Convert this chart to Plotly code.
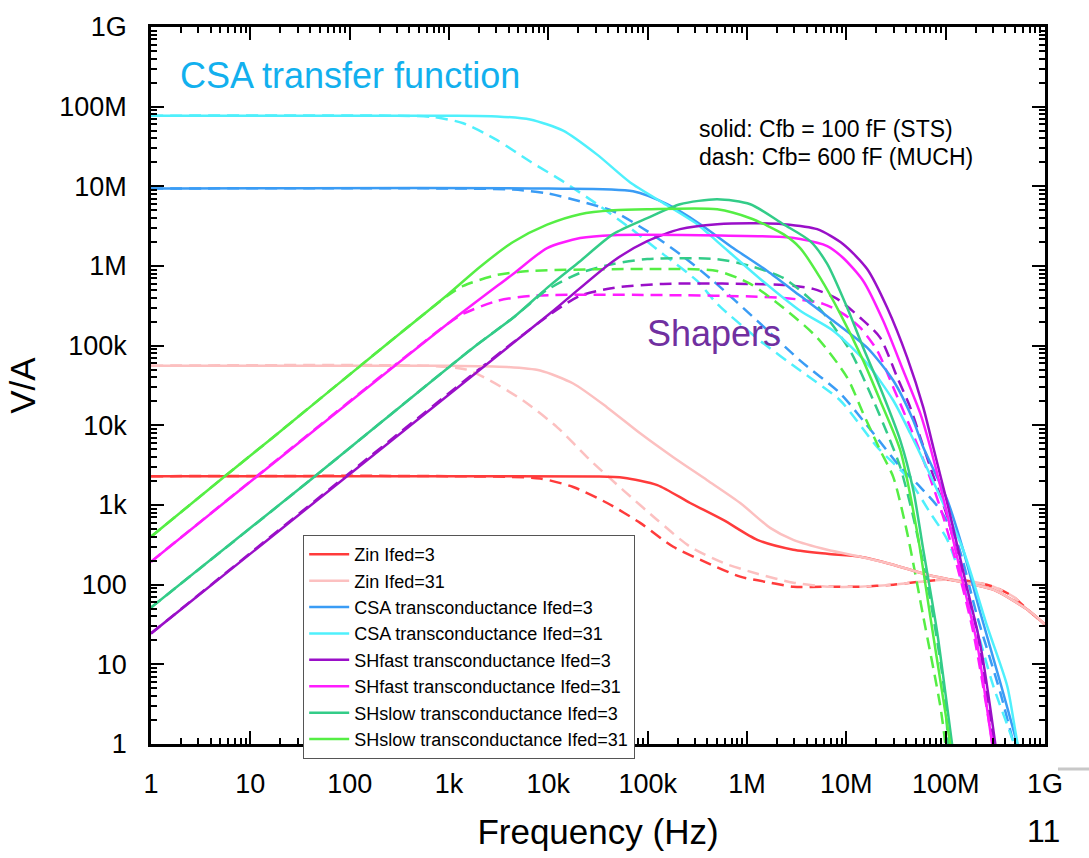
import plotly.graph_objects as go

# ---------------- data ----------------
# Zin  Ifed=3
f_zin3 = [1, 1e3, 3e4, 5.7e4, 1.25e5, 2.68e5, 5.76e5, 1.27e6, 2.92e6, 6.42e6, 1.38e7, 2.97e7, 6.53e7, 1.4e8, 3.02e8, 6.63e8, 1e9]
v_zin3 = [2.3e3, 2.3e3, 2.28e3, 2.2e3, 1.78e3, 1.06e3, 649, 365, 274, 244, 224, 178, 133, 109, 86.6, 48.7, 31.6]
f_zin3_d = [1, 1e3, 8.27e3, 1.78e4, 3.91e4, 8.4e4, 1.81e5, 3.97e5, 8.55e5, 1.71e6, 2.92e6, 6.42e6, 1.38e7, 2.97e7, 5.55e7, 9.46e7, 1.65e8, 3.02e8, 4.79e8, 6.63e8, 1e9]
v_zin3_d = [2.3e3, 2.3e3, 2.15e3, 1.68e3, 1.06e3, 596, 299, 188, 126, 106, 94.4, 94.4, 94.4, 100, 109, 115, 112, 94.4, 70.8, 48.7, 31.6]

# Zin  Ifed=31
f_zin31 = [1, 1e3, 3.85e3, 8.27e3, 1.78e4, 3.91e4, 8.4e4, 1.81e5, 3.97e5, 8.55e5, 1.71e6, 2.92e6, 6.42e6, 1.38e7, 2.97e7, 6.53e7, 1.4e8, 3.02e8, 6.63e8, 1e9]
v_zin31 = [5.6e4, 5.6e4, 5.4e4, 4.87e4, 3.35e4, 1.68e4, 7.94e3, 3.98e3, 2.05e3, 1.06e3, 516, 365, 274, 224, 178, 133, 109, 86.6, 48.7, 31.6]
f_zin31_d = [1, 700, 1.52e3, 2.59e3, 5.57e3, 1.23e4, 2.64e4, 5.66e4, 1.25e5, 2.68e5, 5.76e5, 1.27e6, 2.92e6, 6.42e6, 1.38e7, 2.97e7, 5.55e7, 9.46e7, 1.65e8, 3.02e8, 4.79e8, 6.63e8, 1e9]
v_zin31_d = [5.6e4, 5.55e4, 5.0e4, 3.65e4, 2.05e4, 9.44e3, 3.65e3, 1.54e3, 649, 299, 188, 137, 106, 94.4, 94.4, 100, 109, 115, 112, 94.4, 70.8, 48.7, 31.6]

# CSA transconductance Ifed=3
f_csa3 = [1, 1e4, 7.14e4, 1.57e5, 3.38e5, 7.26e5, 1.6e6, 3.43e6, 7.38e6, 1.62e7, 2.97e7, 4.72e7, 5.95e7, 1.04e8, 1.5e8, 2.23e8, 3.54e8, 5.26e8, 6.31e8]
v_csa3 = [9.4e6, 9.4e6, 8.66e6, 5.96e6, 3.35e6, 1.68e6, 8.66e5, 4.22e5, 2.05e5, 9.44e4, 3.65e4, 1.15e4, 5.31e3, 1.15e3, 274, 44.7, 5.96, 1.0, 0.42]
f_csa3_d = [1, 1e3, 4.42e3, 9.72e3, 2.09e4, 4.49e4, 9.89e4, 2.12e5, 4.57e5, 1.27e6, 3.43e6, 8.69e6, 1.87e7, 3.49e7, 5.55e7, 8.83e7, 1.31e8, 2.08e8, 3.54e8, 4.79e8, 5.64e8]
v_csa3_d = [9.4e6, 9.4e6, 9.1e6, 8.18e6, 6.49e6, 4.87e6, 2.74e6, 1.41e6, 6.49e5, 2.05e5, 6.49e4, 2.51e4, 7.94e3, 3.0e3, 1.68e3, 866, 335, 39.8, 4.47, 1.06, 0.49]

# CSA transconductance Ifed=31
f_csa31 = [1, 1e3, 3.05e3, 6.56e3, 1.41e4, 3.1e4, 6.67e4, 1.43e5, 3.15e5, 5.37e5, 1.36e6, 3.43e6, 7.38e6, 1.62e7, 2.97e7, 4.4e7, 8.83e7, 1.5e8, 2.62e8, 4.17e8, 5.26e8, 6.31e8]
v_csa31 = [7.7e7, 7.7e7, 7.55e7, 6.9e7, 5.0e7, 2.5e7, 1.12e7, 6.2e6, 3.35e6, 1.88e6, 6.88e5, 2.74e5, 1.54e5, 5.96e4, 2.05e4, 7.94e3, 1.26e3, 274, 29.9, 5.31, 1.06, 0.42]
f_csa31_d = [1, 300, 700, 1.39e3, 3.05e3, 6.56e3, 1.41e4, 3.1e4, 6.67e4, 1.43e5, 3.15e5, 5.01e5, 1.36e6, 3.43e6, 8.69e6, 2.05e7, 4.1e7, 7.0e7, 1.04e8, 1.77e8, 3.02e8, 4.79e8, 5.64e8]
v_csa31_d = [7.7e7, 7.7e7, 7.4e7, 6.2e7, 3.8e7, 2.05e7, 1.15e7, 5.96e6, 2.99e6, 1.41e6, 6.49e5, 3.35e5, 1.15e5, 4.87e4, 2.05e4, 5.31e3, 2.24e3, 794, 365, 53.1, 5.31, 1.06, 0.49]

# SHfast transconductance Ifed=3
f_shf3 = [1, 1e4, 4.49e4, 9.89e4, 2.12e5, 5.01e5, 1.08e6, 2.32e6, 5.09e6, 9.31e6, 1.62e7, 2.58e7, 4.1e7, 5.95e7, 7.5e7, 1.11e8, 1.57e8, 2.23e8, 3.16e8, 3.39e8]
v_shf3 = [24.4, 2.44e5, 1.15e6, 2.05e6, 2.9e6, 3.35e6, 3.45e6, 3.35e6, 2.9e6, 1.88e6, 9.18e5, 2.99e5, 7.08e4, 1.68e4, 5.31e3, 750, 115, 17.8, 1.0, 0.49]
f_shf3_d = [1, 9.72e3, 2.09e4, 4.49e4, 1.43e5, 2.32e6, 4.64e6, 8.09e6, 1.38e7, 2.19e7, 3.26e7, 4.4e7, 5.55e7, 7.0e7, 1.04e8, 1.4e8, 2.08e8, 3.02e8, 3.24e8]
v_shf3_d = [24.4, 2.32e5, 4.22e5, 5.31e5, 5.96e5, 5.79e5, 5.16e5, 3.87e5, 2.24e5, 1.26e5, 3.98e4, 1.68e4, 7.08e3, 2.99e3, 708, 168, 25.1, 1.06, 0.49]

# SHfast transconductance Ifed=31
f_shf31 = [1, 1e3, 4.42e3, 9.72e3, 2.09e4, 4.49e4, 2.32e6, 3.43e6, 6.42e6, 9.31e6, 1.48e7, 2.35e7, 3.74e7, 5.55e7, 7.0e7, 1.04e8, 1.47e8, 2.08e8, 2.94e8, 3.24e8]
v_shf31 = [194, 1.94e5, 7.94e5, 1.68e6, 2.24e6, 2.44e6, 2.31e6, 2.18e6, 1.78e6, 1.26e6, 6.49e5, 2.05e5, 4.87e4, 1.41e4, 5.31e3, 750, 115, 17.8, 1.0, 0.49]
f_shf31_d = [1, 957, 1.39e3, 3.05e3, 6.56e3, 1.06e5, 2.32e6, 5.85e6, 9.31e6, 1.38e7, 2.05e7, 2.97e7, 4.4e7, 6.53e7, 9.46e7, 1.31e8, 1.9e8, 2.94e8, 3.16e8]
v_shf31_d = [194, 1.86e5, 2.51e5, 3.65e5, 4.22e5, 4.33e5, 3.98e5, 3.35e5, 2.51e5, 1.68e5, 8.66e4, 2.99e4, 9.44e3, 2.74e3, 708, 168, 25.1, 1.06, 0.49]

# SHslow transconductance Ifed=3
f_shs3 = [1, 44.8, 1.75e3, 4.42e3, 9.72e3, 2.09e4, 4.49e4, 9.89e4, 2.12e5, 5.01e5, 1.08e6, 2.32e6, 4.33e6, 6.42e6, 1.02e7, 1.48e7, 2.19e7, 3.49e7, 4.72e7, 5.95e7, 8.22e7, 1.16e8, 1.26e8]
v_shs3 = [51.6, 2.3e3, 9.44e4, 2.24e5, 5.31e5, 1.15e6, 2.51e6, 3.98e6, 5.96e6, 6.88e6, 5.96e6, 3.35e6, 2.05e6, 1.06e6, 2.99e5, 9.44e4, 2.99e4, 6.49e3, 1.54e3, 274, 25.1, 1.0, 0.49]
f_shs3_d = [1, 44.8, 1.75e3, 4.42e3, 9.72e3, 2.09e4, 4.49e4, 9.89e4, 5.01e5, 1.08e6, 2.32e6, 5.09e6, 1.09e7, 1.87e7, 2.58e7, 3.49e7, 4.72e7, 7.0e7, 9.46e7, 1.06e8, 1.11e8]
v_shs3_d = [51.6, 2.3e3, 9.44e4, 2.24e5, 5.01e5, 8.18e5, 1.06e6, 1.22e6, 1.22e6, 1.0e6, 7.08e5, 3.16e5, 8.66e4, 2.05e4, 7.94e3, 2.99e3, 708, 64.9, 5.96, 1.06, 0.49]

# SHslow transconductance Ifed=31
f_shs31 = [1, 5.31, 16.5, 202, 957, 2.06e3, 4.42e3, 9.72e3, 2.09e4, 4.49e4, 9.89e4, 5.01e5, 1.08e6, 2.32e6, 3.43e6, 5.46e6, 8.69e6, 1.48e7, 2.19e7, 3.49e7, 5.18e7, 7.0e7, 9.46e7, 1.11e8, 1.2e8]
v_shs31 = [400, 2.2e3, 6.9e3, 8.9e4, 4.3e5, 9.8e5, 2.0e6, 3.3e6, 4.47e6, 5.01e6, 5.16e6, 5.16e6, 3.98e6, 2.51e6, 1.68e6, 7.08e5, 2.51e5, 6.49e4, 2.05e4, 4.87e3, 447, 39.8, 3.65, 1.0, 0.49]
f_shs31_d = [1, 5.31, 16.5, 202, 957, 1.39e3, 3.05e3, 6.56e3, 1.06e5, 5.01e5, 1.08e6, 2.32e6, 5.09e6, 1.02e7, 1.48e7, 2.19e7, 2.97e7, 4.1e7, 5.95e7, 8.83e7, 9.91e7, 1.03e8]
v_shs31_d = [400, 2.2e3, 6.9e3, 8.9e4, 4.2e5, 5.62e5, 7.72e5, 8.66e5, 9.18e5, 8.66e5, 5.96e5, 2.99e5, 1.26e5, 3.98e4, 1.41e4, 4.87e3, 2.24e3, 447, 39.8, 2.99, 1.0, 0.49]

series_names = ["Zin Ifed=3", "Zin Ifed=31",
                "CSA transconductance Ifed=3", "CSA transconductance Ifed=31",
                "SHfast transconductance Ifed=3", "SHfast transconductance Ifed=31",
                "SHslow transconductance Ifed=3", "SHslow transconductance Ifed=31"]
series_colors = ["#ff3b3b", "#fcc0c0", "#3a9cf5", "#4ff0fc",
                 "#9a0fc8", "#ff1cff", "#33cc88", "#55ee44"]
solid_data = [(f_zin3, v_zin3), (f_zin31, v_zin31), (f_csa3, v_csa3), (f_csa31, v_csa31),
              (f_shf3, v_shf3), (f_shf31, v_shf31), (f_shs3, v_shs3), (f_shs31, v_shs31)]
dash_data = [(f_zin3_d, v_zin3_d), (f_zin31_d, v_zin31_d), (f_csa3_d, v_csa3_d), (f_csa31_d, v_csa31_d),
             (f_shf3_d, v_shf3_d), (f_shf31_d, v_shf31_d), (f_shs3_d, v_shs3_d), (f_shs31_d, v_shs31_d)]

tick_vals = [1, 10, 100, 1e3, 1e4, 1e5, 1e6, 1e7, 1e8, 1e9]
tick_text = ["1", "10", "100", "1k", "10k", "100k", "1M", "10M", "100M", "1G"]
minor_vals = [k * 10 ** d for d in range(0, 9) for k in range(2, 10)]

FONT = "Liberation Sans, Arial, Helvetica, sans-serif"

fig = go.Figure()

for (f, v), name, col in zip(dash_data, series_names, series_colors):
    fig.add_trace(go.Scatter(x=f, y=v, mode="lines", name=name + " (600 fF)", showlegend=False,
                             line=dict(color=col, width=2.5, dash="12px,7px",
                                       shape="spline", smoothing=0.7)))
for (f, v), name, col in zip(solid_data, series_names, series_colors):
    fig.add_trace(go.Scatter(x=f, y=v, mode="lines", name=name,
                             line=dict(color=col, width=2.5, shape="spline", smoothing=0.7)))

axis_common = dict(
    type="log", range=[0, 9], showgrid=False, zeroline=False,
    showline=True, linecolor="black", linewidth=2.5, mirror="allticks",
    ticks="inside", ticklen=13, tickwidth=2, tickcolor="black",
    tickvals=tick_vals, ticktext=tick_text,
    tickfont=dict(family=FONT, size=27, color="black"),
    minor=dict(tickvals=minor_vals, ticks="inside", ticklen=6, tickwidth=1.5,
               tickcolor="black", showgrid=False),
)

fig.update_xaxes(**axis_common, ticklabelstandoff=14,
                 title=dict(text="Frequency (Hz)", font=dict(family=FONT, size=35, color="black"),
                            standoff=22))
fig.update_yaxes(**axis_common, ticklabelstandoff=16,
                 title=dict(text="V/A", font=dict(family=FONT, size=35, color="black"),
                            standoff=14))

fig.update_layout(
    width=1089, height=858,
    margin=dict(l=151, r=44, t=25, b=113),
    paper_bgcolor="white", plot_bgcolor="white",
    font=dict(family=FONT, color="black"),
    legend=dict(x=0.170, y=0.2917, xanchor="left", yanchor="top",
                bgcolor="white", bordercolor="#555555", borderwidth=1.2,
                font=dict(family=FONT, size=18, color="black"),
                tracegroupgap=0, itemwidth=40),
    annotations=[
        dict(text="CSA transfer function", xref="paper", yref="paper", x=0.030, y=0.933,
             xanchor="left", yanchor="middle", showarrow=False,
             font=dict(family=FONT, size=36, color="#12b0ee")),
        dict(text="Shapers", xref="paper", yref="paper", x=0.5526, y=0.572,
             xanchor="left", yanchor="middle", showarrow=False,
             font=dict(family=FONT, size=36, color="#7030a0")),
        dict(text="solid: Cfb = 100 fF (STS)", xref="paper", yref="paper", x=0.611, y=0.858,
             xanchor="left", yanchor="middle", showarrow=False,
             font=dict(family=FONT, size=23, color="black")),
        dict(text="dash: Cfb= 600 fF (MUCH)", xref="paper", yref="paper", x=0.611, y=0.818,
             xanchor="left", yanchor="middle", showarrow=False,
             font=dict(family=FONT, size=23, color="black")),
        dict(text="11", xref="paper", yref="paper", x=0.998, y=-0.122,
             xanchor="center", yanchor="middle", showarrow=False,
             font=dict(family=FONT, size=32, color="black")),
    ],
    shapes=[
        dict(type="line", xref="paper", yref="paper", x0=1.0145, x1=1.05, y0=-0.0347, y1=-0.0347,
             line=dict(color="#c8c8c8", width=3)),
    ],
)

fig.write_html("out.html")
